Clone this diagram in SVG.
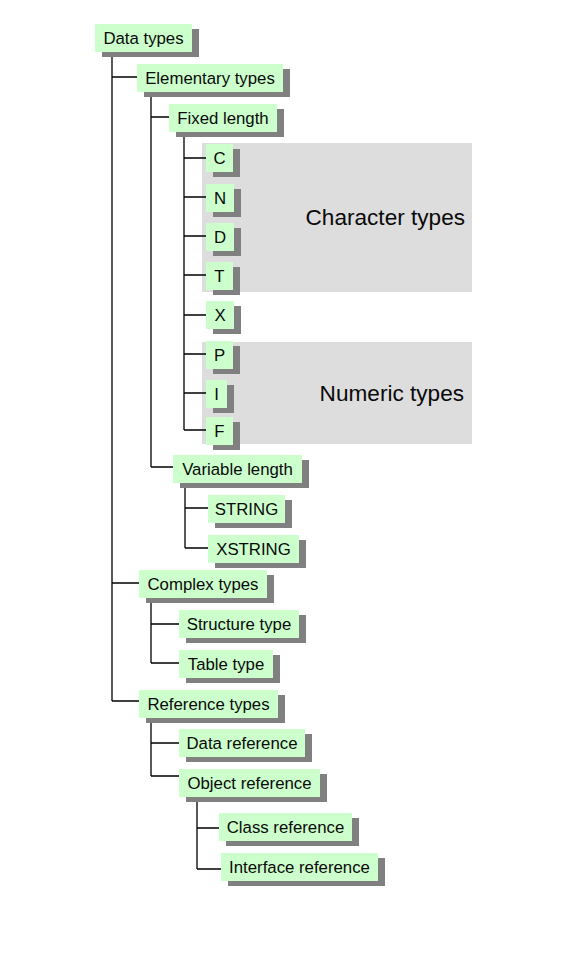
<svg xmlns="http://www.w3.org/2000/svg" width="577" height="957" viewBox="0 0 577 957">
<style>
.bg{fill:#ffffff}
.area{fill:#dddddd}
.sh{fill:#808080}
.box{fill:#ccffcc}
.t{font-family:"Liberation Sans",Arial,sans-serif;font-size:16.8px;fill:#0a0a0a;text-anchor:middle}
.big{font-family:"Liberation Sans",Arial,sans-serif;font-size:22.6px;fill:#0a0a0a;text-anchor:end}
.c{stroke:#000000;stroke-width:1.3;fill:none}
</style>
<rect class="bg" x="0" y="0" width="577" height="957"/>
<g id="area-character">
<rect class="area" x="202" y="143" width="270" height="149"/>
<text class="big" x="465" y="225">Character types</text>
</g>
<g id="area-numeric">
<rect class="area" x="202" y="342" width="270" height="102"/>
<text class="big" x="464" y="401">Numeric types</text>
</g>
<g id="connectors">
<path class="c" d="M112,52 V701 M112,77 H137 M112,583 H139 M112,701 H139"/>
<path class="c" d="M151,92 V467 M151,117 H169 M151,467 H173"/>
<path class="c" d="M184,132 V430 M184,158 H206 M184,197 H206 M184,236 H206 M184,275 H206 M184,315 H206 M184,354 H206 M184,393 H206 M184,430 H206"/>
<path class="c" d="M185,483 V548 M185,508 H208 M185,548 H208"/>
<path class="c" d="M151,598 V663 M151,624 H179 M151,663 H179"/>
<path class="c" d="M151,718 V776 M151,743 H179 M151,776 H179"/>
<path class="c" d="M197,797 V869 M197,828 H219 M197,869 H221"/>
</g>
<g id="n-data-types"><rect class="sh" x="102" y="29" width="97" height="28"/><rect class="box" x="95" y="24" width="97" height="28"/><text class="t" x="143.5" y="44">Data types</text></g>
<g id="n-elementary"><rect class="sh" x="144" y="69" width="146" height="28"/><rect class="box" x="137" y="64" width="146" height="28"/><text class="t" x="210" y="84">Elementary types</text></g>
<g id="n-fixed"><rect class="sh" x="176" y="109" width="108" height="28"/><rect class="box" x="169" y="104" width="108" height="28"/><text class="t" x="223" y="124">Fixed length</text></g>
<g id="n-c"><rect class="sh" x="213" y="149" width="27" height="28"/><rect class="box" x="206" y="144" width="27" height="28"/><text class="t" x="219.5" y="164">C</text></g>
<g id="n-n"><rect class="sh" x="213" y="189" width="28" height="28"/><rect class="box" x="206" y="184" width="28" height="28"/><text class="t" x="220" y="204">N</text></g>
<g id="n-d"><rect class="sh" x="213" y="228" width="28" height="28"/><rect class="box" x="206" y="223" width="28" height="28"/><text class="t" x="220" y="243">D</text></g>
<g id="n-t"><rect class="sh" x="213" y="267" width="27" height="28"/><rect class="box" x="206" y="262" width="27" height="28"/><text class="t" x="219.5" y="282">T</text></g>
<g id="n-x"><rect class="sh" x="213" y="306" width="28" height="28"/><rect class="box" x="206" y="301" width="28" height="28"/><text class="t" x="220" y="321">X</text></g>
<g id="n-p"><rect class="sh" x="213" y="346" width="27" height="28"/><rect class="box" x="206" y="341" width="27" height="28"/><text class="t" x="219.5" y="361">P</text></g>
<g id="n-i"><rect class="sh" x="213" y="385" width="21" height="28"/><rect class="box" x="206" y="380" width="21" height="28"/><text class="t" x="216.5" y="400">I</text></g>
<g id="n-f"><rect class="sh" x="213" y="422" width="27" height="28"/><rect class="box" x="206" y="417" width="27" height="28"/><text class="t" x="219.5" y="437">F</text></g>
<g id="n-variable"><rect class="sh" x="180" y="460" width="129" height="28"/><rect class="box" x="173" y="455" width="129" height="28"/><text class="t" x="237.5" y="475">Variable length</text></g>
<g id="n-string"><rect class="sh" x="215" y="500" width="77" height="28"/><rect class="box" x="208" y="495" width="77" height="28"/><text class="t" x="246.5" y="515">STRING</text></g>
<g id="n-xstring"><rect class="sh" x="215" y="540" width="91" height="28"/><rect class="box" x="208" y="535" width="91" height="28"/><text class="t" x="253.5" y="555">XSTRING</text></g>
<g id="n-complex"><rect class="sh" x="146" y="575" width="128" height="28"/><rect class="box" x="139" y="570" width="128" height="28"/><text class="t" x="203" y="590">Complex types</text></g>
<g id="n-structure"><rect class="sh" x="186" y="615" width="120" height="28"/><rect class="box" x="179" y="610" width="120" height="28"/><text class="t" x="239" y="630">Structure type</text></g>
<g id="n-table"><rect class="sh" x="186" y="655" width="94" height="28"/><rect class="box" x="179" y="650" width="94" height="28"/><text class="t" x="226" y="670">Table type</text></g>
<g id="n-reference"><rect class="sh" x="146" y="695" width="139" height="28"/><rect class="box" x="139" y="690" width="139" height="28"/><text class="t" x="208.5" y="710">Reference types</text></g>
<g id="n-data-ref"><rect class="sh" x="186" y="734" width="126" height="28"/><rect class="box" x="179" y="729" width="126" height="28"/><text class="t" x="242" y="749">Data reference</text></g>
<g id="n-object-ref"><rect class="sh" x="186" y="774" width="141" height="28"/><rect class="box" x="179" y="769" width="141" height="28"/><text class="t" x="249.5" y="789">Object reference</text></g>
<g id="n-class-ref"><rect class="sh" x="226" y="818" width="133" height="28"/><rect class="box" x="219" y="813" width="133" height="28"/><text class="t" x="285.5" y="833">Class reference</text></g>
<g id="n-interface-ref"><rect class="sh" x="228" y="858" width="157" height="28"/><rect class="box" x="221" y="853" width="157" height="28"/><text class="t" x="299.5" y="873">Interface reference</text></g>
</svg>
